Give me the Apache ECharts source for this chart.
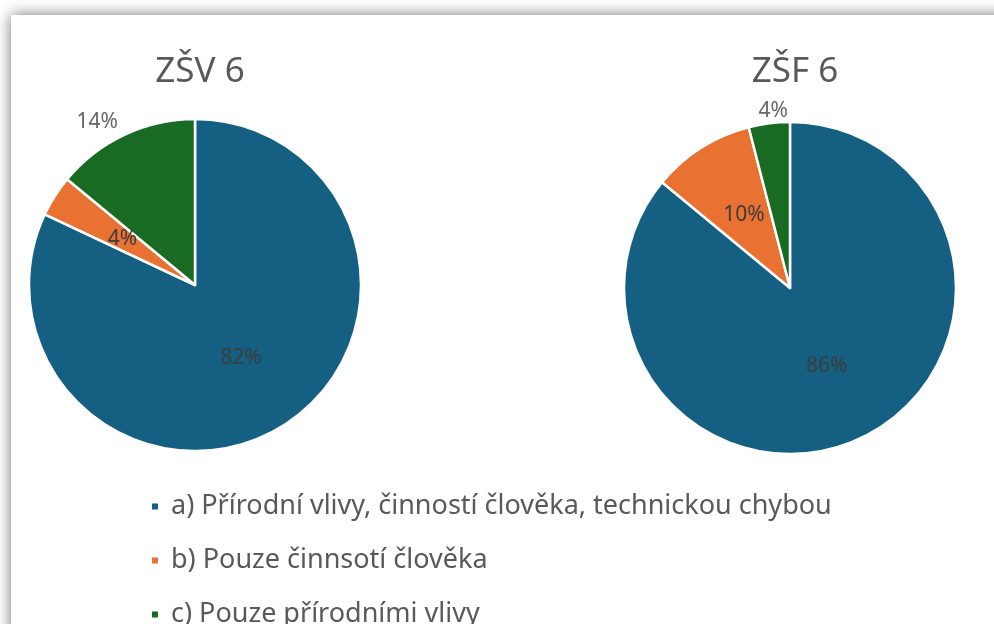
<!DOCTYPE html>
<html style="height: 100%">
<head>
  <meta charset="utf-8">
</head>
<body style="height: 100%; margin: 0">
  <div id="container" style="width: 994px; height: 624px"></div>
  <script type="text/javascript" src="https://cdn.jsdelivr.net/npm/echarts@6/dist/echarts.min.js"></script>
  <script type="text/javascript">
    // kategorie (legenda)
    var categories = [
      'a) Přírodní vlivy, činností člověka, technickou chybou',
      'b) Pouze činnsotí člověka',
      'c) Pouze přírodními vlivy'
    ];
    // názvy škol
    var schools = ['ZŠV 6', 'ZŠF 6'];
    // hodnoty v %
    var valuesZSV = [82, 4, 14];
    var valuesZSF = [86, 10, 4];
    var colors = ['#156082', '#e97132', '#196b24'];

    var dom = document.getElementById('container');
    var myChart = echarts.init(dom);

    // které popisky jsou mimo výseč a posun oproti výchozí poloze
    var outsideNudge = {
      'ZŠV 6': { 2: [-2, -4] },
      'ZŠF 6': { 2: [20, -2] }
    };

    function buildData(values, seriesName) {
      var res = [];
      for (var i = 0; i < values.length; i++) {
        var item = { name: categories[i], value: values[i] };
        if (outsideNudge[seriesName][i]) {
          item.label = { position: 'outside', color: '#666666' };
        }
        res.push(item);
      }
      return res;
    }

    function makePie(name, values, center) {
      return {
        name: name,
        type: 'pie',
        radius: 166,
        center: center,
        startAngle: 90,
        clockwise: true,
        avoidLabelOverlap: false,
        data: buildData(values, name),
        itemStyle: {
          borderColor: '#ffffff',
          borderWidth: 2.5
        },
        label: {
          show: true,
          position: 'inside',
          formatter: '{c}%',
          fontFamily: '"Noto Sans", sans-serif',
          fontSize: 21,
          color: '#3c3c3c',
          distanceToLabelLine: 0
        },
        labelLine: {
          show: false,
          length: 10,
          length2: 0
        },
        labelLayout: function (params) {
          var n = outsideNudge[name][params.dataIndex];
          if (n) {
            return { dx: n[0], dy: n[1] };
          }
          return {};
        },
        emphasis: { scale: false }
      };
    }

    var titleStyle = { fontSize: 35, fontWeight: 'normal', color: '#595959', fontFamily: '"Noto Sans", sans-serif' };

    var option = {
      backgroundColor: '#ffffff',
      color: colors,
      graphic: [{
        type: 'rect',
        z: -10,
        shape: { x: 11, y: 15, width: 1100, height: 700 },
        style: {
          fill: '#ffffff',
          shadowBlur: 14,
          shadowColor: 'rgba(0,0,0,0.55)'
        }
      }],
      title: [
        { text: schools[0], left: 195, top: 50, textAlign: 'center', textStyle: titleStyle },
        { text: schools[1], left: 790, top: 50, textAlign: 'center', textStyle: titleStyle }
      ],
      legend: {
        orient: 'vertical',
        left: 145,
        top: 488,
        height: 200,
        itemWidth: 8,
        itemHeight: 8,
        itemGap: 27,
        icon: 'rect',
        data: categories,
        selectedMode: false,
        textStyle: {
          fontSize: 27,
          lineHeight: 27,
          color: '#595959',
          padding: [0, 0, 0, 7],
          fontFamily: '"Noto Sans", sans-serif'
        }
      },
      series: [
        makePie(schools[0], valuesZSV, [195, 285]),
        makePie(schools[1], valuesZSF, [790, 288])
      ]
    };

    if (option && typeof option === 'object') {
      myChart.setOption(option, true);
    }
  </script>
</body>
</html>
